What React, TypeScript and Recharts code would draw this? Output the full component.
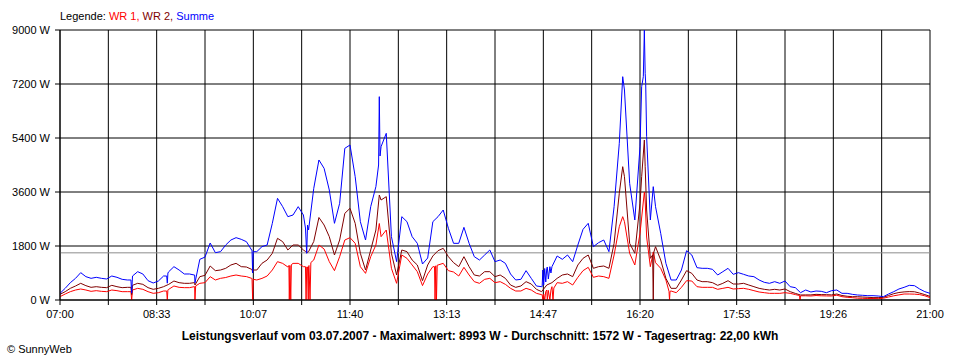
import React from 'react';
import { LineChart, Line, XAxis, YAxis, CartesianGrid, ReferenceLine } from 'recharts';

// 5-minute base grid, minutes after 07:00 (0..840)
const BASE_SUMME = [
  222, 389, 578, 722, 911, 778, 722, 756, 722, 700,
  800, 756, 689, 667, 800, 944, 867, 644, 567, 633,
  800, 944, 1111, 1000, 867, 867, 833, 1356, 1430, 1900,
  1578, 1611, 1833, 2000, 2078, 2022, 1944, 1667, 1611, 1778,
  1833, 2556, 3389, 3111, 2778, 2833, 3111, 2833, 2333, 3722,
  4667, 4389, 3667, 2556, 3222, 5056, 5167, 4111, 2611, 2000,
  3111, 3778, 5111, 5556, 2111, 1278, 2778, 2611, 2111, 1889,
  1200, 1400, 2611, 2778, 3000, 2389, 1889, 1889, 2422, 1889,
  1444, 1333, 1500, 1667, 1278, 1333, 1222, 867, 667, 689,
  978, 722, 467, 444, 1056, 1111, 1467, 1356, 1500, 1278,
  1833, 2356, 2556, 1778, 1911, 2000, 1611, 3111, 5222, 7000,
  3889, 2667, 5111, 7556, 2667, 3111, 2222, 1222, 667, 667,
  1000, 1644, 1500, 1078, 1056, 1056, 1022, 833, 944, 1056,
  856, 911, 856, 800, 778, 667, 589, 556, 611, 556,
  633, 444, 411, 244, 333, 267, 300, 289, 244, 311,
  333, 222, 222, 189, 167, 156, 144, 144, 133, 111,
  200, 278, 367, 422, 489, 478, 367, 278, 222,
];

const BASE_WR2 = [
  189, 278, 389, 467, 556, 478, 422, 444, 422, 411,
  489, 444, 411, 422, 489, 556, 522, 411, 356, 389,
  444, 522, 633, 578, 556, 556, 578, 778, 822, 1133,
  978, 1000, 1056, 1167, 1222, 1111, 1100, 1022, 1000, 1222,
  1333, 1556, 2056, 1944, 1667, 1833, 1833, 1667, 1611, 1950,
  2750, 2500, 2111, 1500, 2000, 2889, 3056, 2556, 1556, 1000,
  1667, 2333, 3333, 3444, 1556, 833, 1667, 1611, 1333, 1167,
  644, 1167, 1467, 1644, 1722, 1444, 1244, 1111, 1444, 1111,
  833, 800, 944, 944, 778, 833, 722, 500, 422, 467,
  611, 533, 356, 278, 500, 578, 722, 833, 867, 778,
  1167, 1389, 1500, 1056, 1111, 1133, 1056, 1889, 3556, 4111,
  1889, 1556, 3222, 4444, 1389, 1778, 1333, 722, 389, 389,
  667, 978, 889, 667, 611, 611, 578, 489, 556, 644,
  533, 533, 556, 500, 444, 389, 356, 333, 356, 333,
  367, 278, 220, 167, 170, 170, 189, 180, 178, 170,
  200, 150, 125, 111, 111, 100, 90, 80, 80, 90,
  150, 210, 250, 270, 280, 275, 230, 180, 120,
];

const BASE_WR1 = [
  111, 200, 278, 333, 367, 333, 289, 311, 289, 278,
  333, 311, 278, 278, 333, 389, 356, 278, 222, 244,
  300, 356, 467, 422, 411, 411, 444, 556, 578, 778,
  667, 722, 750, 800, 833, 800, 780, 722, 667, 720,
  800, 1000, 1278, 1220, 1100, 1220, 1222, 1111, 1110, 1333,
  1833, 1700, 1278, 978, 1444, 2000, 2078, 1889, 1111, 889,
  1444, 1833, 2111, 2333, 1056, 556, 1500, 1389, 1167, 944,
  480, 867, 1111, 1167, 1222, 978, 933, 800, 1089, 833,
  611, 556, 689, 722, 578, 611, 522, 389, 300, 300,
  389, 333, 222, 178, 333, 444, 578, 556, 611, 500,
  756, 978, 1089, 756, 800, 778, 722, 1500, 2444, 2611,
  1556, 1167, 2222, 3300, 1111, 1244, 1056, 667, 300, 244,
  422, 644, 633, 444, 422, 422, 422, 356, 389, 422,
  367, 378, 389, 356, 311, 267, 244, 222, 222, 222,
  244, 222, 180, 140, 140, 133, 150, 140, 135, 133,
  160, 111, 90, 78, 60, 56, 50, 50, 45, 60,
  100, 140, 170, 200, 200, 195, 180, 140, 80,
];

// extra readings around short spikes (minutes after 07:00); null = no extra reading for that series
const N = null;
const SPIKE_T = [
  68.5, 69.2,
  103.0, 103.6, 104.2,
  129.6, 130.3, 131.0,
  185.4, 186.0, 186.6,
  221.0, 221.4, 222.0, 222.8, 223.4,
  237.0, 237.6, 238.2, 239.0, 239.7, 240.4, 241.4, 242.2,
  307.6, 308.3, 309.0,
  361.6, 362.1, 362.8, 363.5, 364.2,
  465.5, 466.2, 467.0, 468.0, 469.0, 470.5, 471.5, 473.0, 474.0, 476.0, 476.8,
  543.3,
  561.6, 563.2, 564.2, 565.5, 566.4,
  572.2, 572.8, 573.4,
  588.0, 588.5, 589.0,
  714.0, 714.5, 715.0,
];
const SPIKE_SUMME = [
  667, 230,
  800, 560, 900,
  833, 570, N,
  1667, 900, 1611,
  N, N, N, N, N,
  2400, N, 1556, 2500, N, N, N, N,
  4500, 6778, 4800,
  N, N, N, N, N,
  444, 1000, 500, 1050, 600, 1100, 700, 1111, 900, N, N,
  7444,
  7111, 7444, 8993, 7222, 5444,
  N, 3778, N,
  N, N, N,
  N, N, N,
];
const SPIKE_WR2 = [
  422, 180,
  N, N, N,
  578, 500, N,
  1022, 911, 1000,
  N, N, N, N, N,
  1620, N, 1580, N, N, N, N, N,
  N, 3500, N,
  N, N, N, N, N,
  N, N, N, N, N, N, N, N, N, N, N,
  4444,
  4111, N, 5333, N, 3000,
  1500, 0, 1600,
  N, N, N,
  N, N, N,
];
const SPIKE_WR1 = [
  278, 0,
  300, 0, 340,
  444, 0, 470,
  722, 0, 690,
  1150, 0, 1150, 0, 1180,
  1110, 0, 1100, 1100, 0, 1150, 0, 1250,
  N, 2550, N,
  1111, 0, 1140, 0, 1160,
  178, 0, 200, 0, 280, 0, 320, 0, 330, 0, 400,
  2778,
  N, N, 3600, N, 2100,
  N, 1600, N,
  290, 0, 290,
  150, 0, 140,
];

const TIME_LABELS = ['07:00', '08:33', '10:07', '11:40', '13:13', '14:47', '16:20', '17:53', '19:26', '21:00'];
const Y_TICKS = [0, 1800, 3600, 5400, 7200, 9000];
const AVERAGE = 1572;

const X_TICKS = Array.from({ length: 19 }, (_, i) => (i * 840) / 18);

type Row = { t: number; summe: number | null; wr2: number | null; wr1: number | null };

const data: Row[] = [
  ...BASE_SUMME.map((s, i) => ({ t: i * 5, summe: s, wr2: BASE_WR2[i], wr1: BASE_WR1[i] })),
  ...SPIKE_T.map((t, i) => ({ t, summe: SPIKE_SUMME[i], wr2: SPIKE_WR2[i], wr1: SPIKE_WR1[i] })),
].sort((a, b) => a.t - b.t);

const FONT = '"Liberation Sans", Arial, sans-serif';

export default function App() {
  return (
    <div style={{ position: 'absolute', left: 0, top: 0, width: 960, height: 360, background: '#fff', fontFamily: FONT }}>
      <LineChart width={960} height={360} data={data} margin={{ top: 30, right: 30, bottom: 30, left: 0 }}>
        <CartesianGrid stroke="#000" strokeWidth={1} strokeDasharray="" />
        <XAxis
          dataKey="t"
          type="number"
          domain={[0, 840]}
          ticks={X_TICKS}
          interval={0}
          height={30}
          tickSize={5}
          tickMargin={5}
          stroke="#000"
          tick={{ fill: '#000', fontSize: 11, fontFamily: FONT }}
          tickFormatter={(v: number, i: number) => (i % 2 === 0 ? TIME_LABELS[i / 2] : '')}
        />
        <YAxis
          type="number"
          domain={[0, 9000]}
          ticks={Y_TICKS}
          width={60}
          tickSize={5}
          tickMargin={5}
          stroke="#000"
          tick={{ fill: '#000', fontSize: 11, fontFamily: FONT }}
          tickFormatter={(v: number) => `${v} W`}
        />
        <ReferenceLine y={AVERAGE} stroke="#8c8c8c" strokeWidth={1} />
        <Line dataKey="wr1" stroke="#ff0000" strokeWidth={1} dot={false} connectNulls isAnimationActive={false} type="linear" />
        <Line dataKey="wr2" stroke="#800000" strokeWidth={1} dot={false} connectNulls isAnimationActive={false} type="linear" />
        <Line dataKey="summe" stroke="#0000ff" strokeWidth={1} dot={false} connectNulls isAnimationActive={false} type="linear" />
      </LineChart>
      <div style={{ position: 'absolute', left: 60, top: 10, fontSize: 11, lineHeight: '13px', whiteSpace: 'nowrap' }}>
        <span style={{ color: '#000' }}>Legende: </span>
        <span style={{ color: '#ff0000' }}>WR 1, </span>
        <span style={{ color: '#800000' }}>WR 2, </span>
        <span style={{ color: '#0000ff' }}>Summe</span>
      </div>
      <div style={{ position: 'absolute', left: 0, width: 960, top: 329, textAlign: 'center', fontSize: 12, fontWeight: 'bold', lineHeight: '14px', whiteSpace: 'nowrap' }}>
        Leistungsverlauf vom 03.07.2007 - Maximalwert: 8993 W - Durchschnitt: 1572 W - Tagesertrag: 22,00 kWh
      </div>
      <div style={{ position: 'absolute', left: 7, top: 343, fontSize: 11, lineHeight: '13px', whiteSpace: 'nowrap' }}>
        © SunnyWeb
      </div>
    </div>
  );
}
